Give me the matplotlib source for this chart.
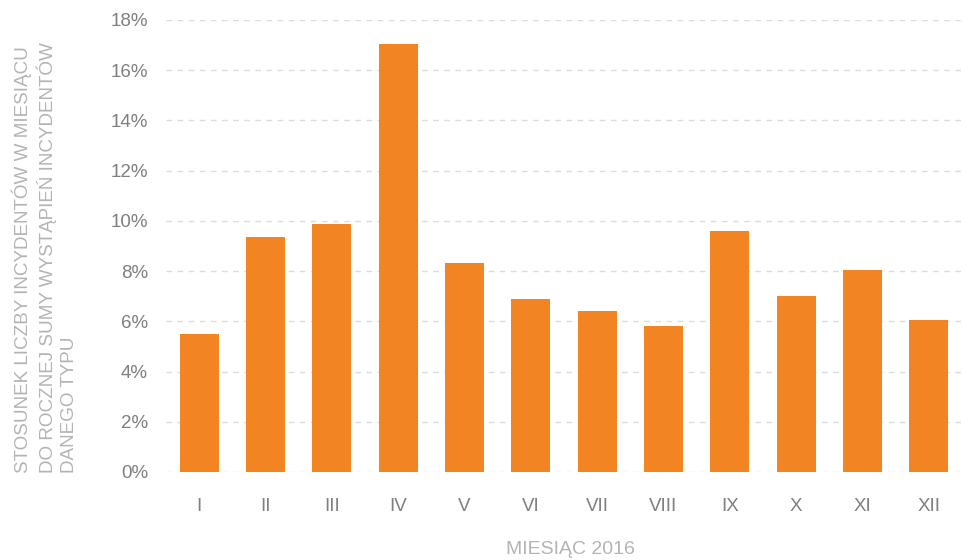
import numpy as np
import matplotlib.pyplot as plt
from matplotlib.ticker import FuncFormatter

miesiace = ['I', 'II', 'III', 'IV', 'V', 'VI', 'VII', 'VIII', 'IX', 'X', 'XI', 'XII']
udzial = [5.5, 9.35, 9.88, 17.05, 8.33, 6.89, 6.41, 5.82, 9.6, 7.01, 8.05, 6.06]

plt.rcParams['font.family'] = ['Liberation Sans', 'DejaVu Sans']

W, H = 964, 560
fig = plt.figure(figsize=(W / 100, H / 100), dpi=100)
ax = fig.add_axes([166 / W, 1 - 472 / H, (962 - 166) / W, (472 - 20) / H])

x = np.arange(len(miesiace))
ax.bar(x, udzial, width=0.59, color='#f38422', zorder=3)

ax.set_xlim(-0.5, len(miesiace) - 0.5)
ax.set_ylim(0, 18)
ax.set_yticks(np.arange(0, 19, 2))
ax.yaxis.set_major_formatter(FuncFormatter(lambda v, p: '%d%%' % v))
ax.set_xticks(x)
ax.set_xticklabels(miesiace)

ax.grid(axis='y', color='#dcdcdc', linestyle=(0, (4, 4)), linewidth=1, zorder=0)
for s in ax.spines.values():
    s.set_visible(False)
ax.tick_params(axis='both', length=0, labelsize=13.5, labelcolor='#7f7f7f')
ax.tick_params(axis='y', pad=13)
ax.tick_params(axis='x', pad=19)

fig.text(11 / W, 1 - 473 / H,
         'STOSUNEK LICZBY INCYDENTÓW W MIESIĄCU\nDO ROCZNEJ SUMY WYSTĄPIEŃ INCYDENTÓW\nDANEGO TYPU',
         rotation=90, ha='left', va='bottom', multialignment='left',
         fontsize=13.6, color='#b4b4b4', linespacing=1.32)
fig.text(570 / W, 1 - 550 / H, 'MIESIĄC 2016', ha='center', va='center',
         fontsize=14, color='#b4b4b4')

fig.savefig('out.png', dpi=100)
